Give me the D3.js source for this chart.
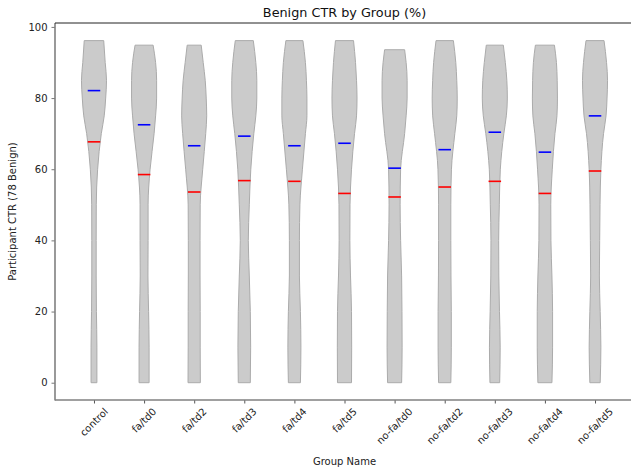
<!DOCTYPE html>
<html>
<head>
<meta charset="utf-8">
<script src="https://cdn.jsdelivr.net/npm/d3@7"></script>
<style>
  html, body { margin: 0; padding: 0; background: #fff; }
  svg { display: block; font-family: "DejaVu Sans", sans-serif; }
</style>
</head>
<body>
<svg id="chart" width="631" height="471"></svg>
<script>
// ---- data ----
const groups = ["control", "fa/td0", "fa/td2", "fa/td3", "fa/td4", "fa/td5",
                "no-fa/td0", "no-fa/td2", "no-fa/td3", "no-fa/td4", "no-fa/td5"];
const medians = [82.1, 72.5, 66.6, 69.3, 66.6, 67.3, 60.3, 65.5, 70.4, 64.8, 75.0];
const means   = [67.7, 58.5, 53.6, 56.8, 56.6, 53.2, 52.2, 55.0, 56.6, 53.2, 59.5];
const maxima  = [96.15, 94.87, 94.87, 96.15, 96.15, 96.15, 93.59, 96.15, 94.87, 94.87, 96.15];
const minima  = [0, 0, 0, 0, 0, 0, 0, 0, 0, 0, 0];
// density profile (relative) at these CTR levels, last entry = at the maximum
const densityLevels = [0, 10, 20, 30, 40, 50, 60, 70, 75, 80, 85, 90];
const densities = [
  [6, 6, 5, 4.5, 4.5, 4.7, 7.5, 15, 21, 24, 25.7, 23, 20],
  [10, 10, 9, 7.7, 8, 8, 12, 20, 23, 25, 25, 23, 18],
  [12.3, 12, 12, 11.7, 11.7, 12, 17, 23, 25, 24, 22, 18, 14],
  [12, 12.7, 12, 10, 8, 10, 13, 19, 23, 25, 25, 23, 18],
  [12, 13, 12, 10, 10, 11, 16, 22, 25, 25, 24, 22, 17],
  [14, 14.3, 14, 12, 10.7, 11, 14, 20, 24, 25, 24, 22, 18],
  [14, 15, 14.7, 14, 12, 11, 12, 20, 23, 25, 25, 23, 20],
  [12.7, 13.7, 13.7, 13, 12.7, 12.7, 14, 21, 25, 26, 25, 23, 18],
  [9.7, 10.7, 9.3, 8, 7.7, 9, 11, 18, 23, 25, 24, 21, 17],
  [14, 15.3, 15.3, 14, 12, 11.7, 14.7, 20, 24, 25, 24.5, 23, 19],
  [10.3, 11.7, 10.3, 8.7, 9.3, 10, 11.7, 17, 22, 24, 25, 23, 18]
];
const yTicks = [0, 20, 40, 60, 80, 100];
const titleText = "Benign CTR by Group (%)";
const xLabel = "Group Name";
const yLabel = "Participant CTR (78 Benign)";

// ---- layout ----
const svg = d3.select("#chart");
const mLeft = 55, mRight = 634, mTop = 23, mBottom = 400;

const x = d3.scaleLinear().domain([0.222, 11.778]).range([mLeft, mRight]);
const y = d3.scaleLinear().domain([-4.86, 101.1]).range([mBottom, mTop]);

// violins
const violinHalf = 0.25; // in x units at max density
const lineHalf = 0.125;

groups.forEach((g, i) => {
  const pos = i + 1;
  const dens = densities[i];
  const dmax = d3.max(dens);
  const pts = [];
  densityLevels.forEach((lv, k) => {
    if (lv >= minima[i] && lv < maxima[i]) pts.push({v: lv, d: dens[k]});
  });
  pts.push({v: maxima[i], d: dens[dens.length - 1]});
  const w = d => (x(pos + violinHalf) - x(pos)) * d / dmax;
  const area = d3.area()
    .y(d => y(d.v))
    .x0(d => x(pos) - w(d.d))
    .x1(d => x(pos) + w(d.d))
    .curve(d3.curveMonotoneY);
  svg.append("path")
    .datum(pts)
    .attr("d", area)
    .attr("fill", "#cbcbcb")
    .attr("stroke", "#ababab")
    .attr("stroke-width", 1);

  svg.append("line")
    .attr("x1", x(pos - lineHalf)).attr("x2", x(pos + lineHalf))
    .attr("y1", y(medians[i])).attr("y2", y(medians[i]))
    .attr("stroke", "#0000ff").attr("stroke-width", 1.6);
  svg.append("line")
    .attr("x1", x(pos - lineHalf)).attr("x2", x(pos + lineHalf))
    .attr("y1", y(means[i])).attr("y2", y(means[i]))
    .attr("stroke", "#ff0000").attr("stroke-width", 1.6);
});

// axes
const yAxis = d3.axisLeft(y).tickValues(yTicks).tickSize(3.5).tickPadding(4);
const gy = svg.append("g").attr("transform", `translate(${mLeft},0)`).call(yAxis);
gy.select(".domain").remove();
gy.selectAll(".tick line").attr("stroke", "#777").attr("stroke-width", 1);
gy.selectAll(".tick text").attr("fill", "#222").style("font-size", "10px")
  .style("font-family", "DejaVu Sans, sans-serif");

const xAxis = d3.axisBottom(x).tickValues(d3.range(1, groups.length + 1)).tickSize(3.5).tickFormat(() => "");
const gx = svg.append("g").attr("transform", `translate(0,${mBottom})`).call(xAxis);
gx.select(".domain").remove();
gx.selectAll(".tick line").attr("stroke", "#555").attr("stroke-width", 1);

// rotated x tick labels (centered bounding box under tick)
groups.forEach((g, i) => {
  const t = svg.append("text")
    .text(g)
    .style("font-size", "10px")
    .attr("fill", "#222")
    .attr("text-anchor", "middle")
    .attr("dominant-baseline", "central");
  const tw = t.node().getComputedTextLength();
  const th = 8;
  const half = (tw + th) * Math.SQRT1_2 / 2;
  t.attr("transform", `translate(${x(i + 1)},${mBottom + 7 + half}) rotate(-45)`);
});

// spines
svg.append("line").attr("x1", mLeft).attr("x2", mLeft).attr("y1", mTop).attr("y2", mBottom + 0.5)
  .attr("stroke", "#808080").attr("stroke-width", 1.6);
svg.append("line").attr("x1", mLeft).attr("x2", mRight).attr("y1", mBottom).attr("y2", mBottom)
  .attr("stroke", "#808080").attr("stroke-width", 1.6);
svg.append("line").attr("x1", mLeft).attr("x2", mRight).attr("y1", mTop).attr("y2", mTop)
  .attr("stroke", "#222").attr("stroke-width", 1);

// titles
svg.append("text").text(titleText)
  .attr("x", (mLeft + mRight) / 2).attr("y", 16.5)
  .attr("text-anchor", "middle").style("font-size", "12.8px").attr("fill", "#111");
svg.append("text").text(xLabel)
  .attr("x", (mLeft + mRight) / 2).attr("y", 465)
  .attr("text-anchor", "middle").style("font-size", "10px").attr("fill", "#222");
svg.append("text").text(yLabel)
  .attr("transform", `translate(16,${(mTop + mBottom) / 2}) rotate(-90)`)
  .attr("text-anchor", "middle").style("font-size", "10px").attr("fill", "#222");
</script>
</body>
</html>
